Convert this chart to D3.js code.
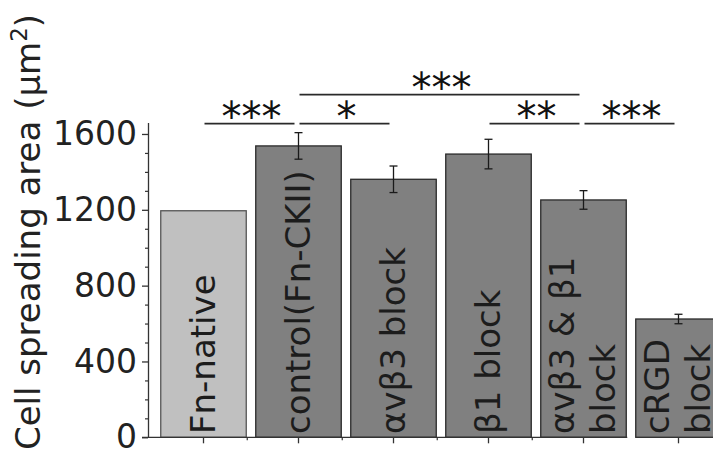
<!DOCTYPE html>
<html>
<head>
<meta charset="utf-8">
<script src="https://cdn.jsdelivr.net/npm/d3@7"></script>
<style>
  body { margin: 0; background: #fff; }
  svg { display: block; font-family: "DejaVu Sans", Verdana, sans-serif; }
</style>
</head>
<body>
<div id="chart-container"></div>
<script>
// values
const categories = ["Fn-native", "control(Fn-CKII)", "αvβ3 block", "β1 block", "αvβ3 & β1\nblock", "cRGD\nblock"];
const means = [1195, 1537, 1361, 1494, 1252, 624];
const errors = [0, 70, 70, 78, 49, 25];
const yTicks = [0, 400, 800, 1200, 1600];
const yMinorTicks = [100, 200, 300, 500, 600, 700, 900, 1000, 1100, 1300, 1400, 1500];

// significance brackets: [from bar, to bar], stars, stacking level
const bracketPairs = [[0, 1], [1, 4], [1, 2], [3, 4], [4, 5]];
const bracketLabels = ["***", "***", "*", "**", "***"];
const bracketLevels = [0, 1, 0, 0, 0];

const width = 713, height = 453;
const svg = d3.select("#chart-container").append("svg")
  .attr("width", width)
  .attr("height", height);

const x = d3.scaleBand()
  .domain(categories)
  .range([156, 726])
  .paddingInner(0.1)
  .paddingOuter(0.05);

const y = d3.scaleLinear()
  .domain([0, 1660])
  .range([437.3, 122.6]);

// bars
svg.selectAll("rect.bar")
  .data(categories)
  .enter()
  .append("rect")
  .attr("class", "bar")
  .attr("x", d => x(d))
  .attr("y", (d, i) => y(means[i]))
  .attr("width", x.bandwidth())
  .attr("height", (d, i) => y(0) - y(means[i]))
  .attr("fill", (d, i) => i === 0 ? "#c0c0c0" : "#808080")
  .attr("stroke", (d, i) => i === 0 ? "#555" : "#2a2a2a")
  .attr("stroke-width", 1.3);

// error bars
const errG = svg.append("g")
  .attr("stroke", "#1a1a1a")
  .attr("stroke-width", 1.3);
categories.forEach((c, i) => {
  if (!errors[i]) return;
  const cx = x(c) + x.bandwidth() / 2;
  const top = y(means[i] + errors[i]), bot = y(means[i] - errors[i]);
  errG.append("line").attr("x1", cx).attr("x2", cx).attr("y1", top).attr("y2", bot);
  errG.append("line").attr("x1", cx - 4).attr("x2", cx + 4).attr("y1", top).attr("y2", top);
  errG.append("line").attr("x1", cx - 4).attr("x2", cx + 4).attr("y1", bot).attr("y2", bot);
});

// bar labels, written upward inside the bars
categories.forEach((c, i) => {
  const lines = c.split("\n");
  const cx = x(c) + x.bandwidth() / 2;
  const t = svg.append("text")
    .attr("transform", `translate(${cx},434) rotate(-90)`)
    .attr("font-size", 34)
    .attr("fill", "#1c1c1c");
  lines.forEach((s, k) => {
    t.append("tspan")
      .attr("x", 0)
      .attr("y", 0)
      .attr("dy", ((k - (lines.length - 1) / 2) * 1.22 + 0.33) + "em")
      .text(s);
  });
});

// y axis
const yAxis = svg.append("g")
  .attr("transform", "translate(148,0)")
  .call(d3.axisLeft(y).tickValues(yTicks).tickFormat(d3.format("d"))
    .tickSize(6).tickSizeOuter(0).tickPadding(5));
yAxis.select(".domain").attr("stroke", "#333").attr("stroke-width", 1.3);
yAxis.selectAll(".tick line").attr("stroke", "#333").attr("stroke-width", 1.3);
yAxis.selectAll(".tick text")
  .attr("font-size", 33)
  .attr("font-family", "DejaVu Sans, sans-serif")
  .attr("fill", "#222");

const yMinor = svg.append("g")
  .attr("transform", "translate(148,0)")
  .call(d3.axisLeft(y).tickValues(yMinorTicks).tickSize(3).tickSizeOuter(0).tickFormat(""));
yMinor.select(".domain").remove();
yMinor.selectAll(".tick line").attr("stroke", "#333").attr("stroke-width", 1.2);

// x axis: baseline, ticks at bar centres and small ticks between bars
const xEnd = x(categories[4]) + x.bandwidth() + 1;
svg.append("line")
  .attr("x1", 142).attr("x2", xEnd)
  .attr("y1", y(0)).attr("y2", y(0))
  .attr("stroke", "#333").attr("stroke-width", 1.3);
svg.selectAll("line.xtick")
  .data(categories)
  .enter()
  .append("line")
  .attr("class", "xtick")
  .attr("x1", d => x(d) + x.bandwidth() / 2)
  .attr("x2", d => x(d) + x.bandwidth() / 2)
  .attr("y1", y(0))
  .attr("y2", y(0) + 6)
  .attr("stroke", "#333").attr("stroke-width", 1.3);
svg.selectAll("line.xminor")
  .data(categories.slice(0, 4))
  .enter()
  .append("line")
  .attr("class", "xminor")
  .attr("x1", d => x(d) + x.bandwidth() + 1)
  .attr("x2", d => x(d) + x.bandwidth() + 1)
  .attr("y1", y(0))
  .attr("y2", y(0) + 3)
  .attr("stroke", "#333").attr("stroke-width", 1.2);

// y axis title
const title = svg.append("text")
  .attr("transform", "translate(40,232) rotate(-90)")
  .attr("text-anchor", "middle")
  .attr("font-size", 34)
  .attr("fill", "#222");
title.append("tspan").text("Cell spreading area (µm");
title.append("tspan").attr("font-size", 23).attr("dy", -13).text("2");
title.append("tspan").attr("dy", 13).text(")");

// significance brackets
const bracketY = l => y(1660) + 1 - l * 29;
bracketPairs.forEach((p, i) => {
  const x1 = x(categories[p[0]]) + x.bandwidth() / 2 + 1;
  const x2 = x(categories[p[1]]) + x.bandwidth() / 2 - 4;
  const by = bracketY(bracketLevels[i]);
  svg.append("line")
    .attr("x1", x1).attr("x2", x2)
    .attr("y1", by).attr("y2", by)
    .attr("stroke", "#2a2a2a").attr("stroke-width", 1.6);
  svg.append("text")
    .attr("x", (x1 + x2) / 2 + 2)
    .attr("y", by + 7)
    .attr("text-anchor", "middle")
    .attr("font-size", 40)
    .attr("fill", "#111")
    .text(bracketLabels[i]);
});
</script>
</body>
</html>
